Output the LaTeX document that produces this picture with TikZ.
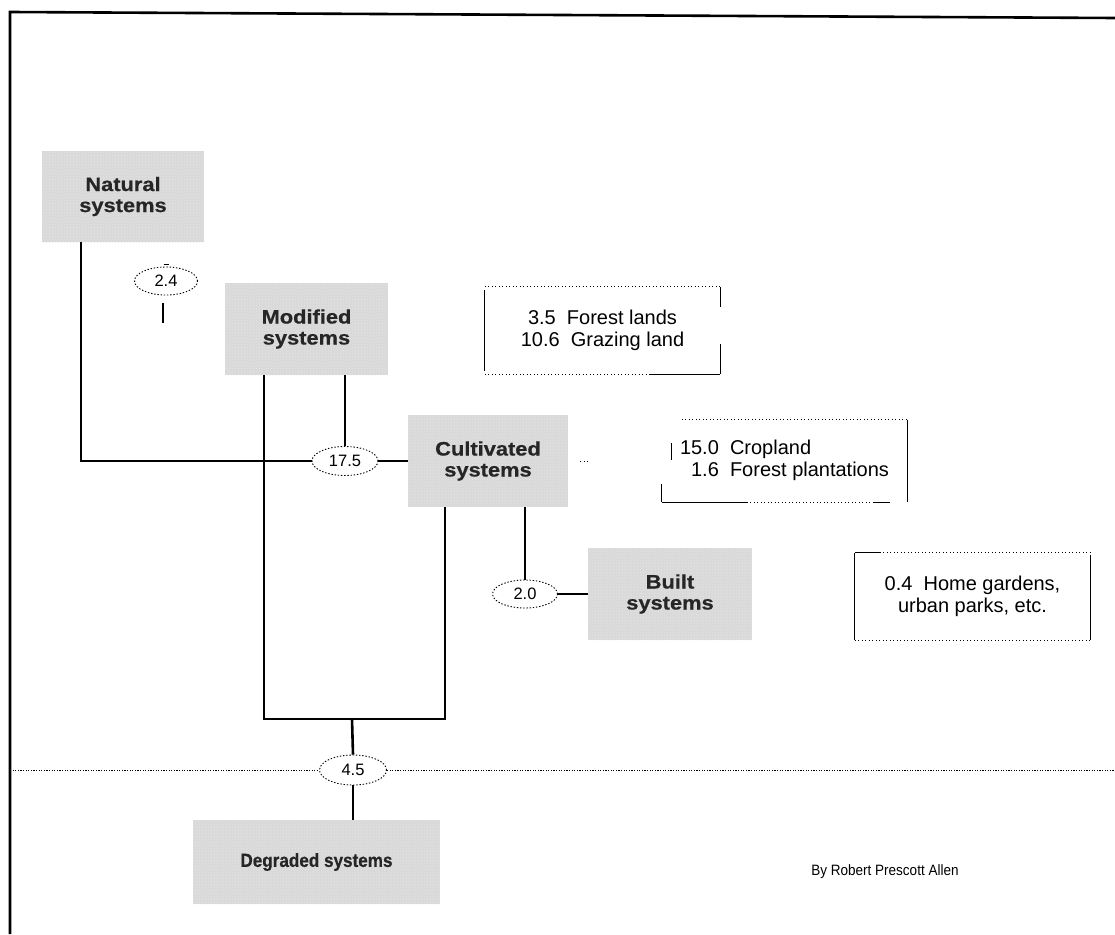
\documentclass[tikz,border=0pt]{standalone}
\usepackage{fontspec}
\setmainfont{Liberation Sans}
\newfontfamily\boxfont{Liberation Sans}[FakeStretch=1.12, BoldFeatures={FakeBold=0.6}]
\newfontfamily\degfont{Liberation Sans}[FakeStretch=0.9, BoldFeatures={FakeBold=0.6}]
\usetikzlibrary{shapes.geometric,calc,patterns}
\begin{document}
\begin{tikzpicture}[x=1pt,y=-1pt,
  sysbox/.style={rectangle, fill=black!15, postaction={pattern=crosshatch dots, pattern color=black!10},
    inner sep=0pt, align=center, text=black!85,
    font=\boxfont\bfseries\fontsize{19.5}{21}\selectfont},
  numell/.style={ellipse, draw, line width=0.9pt, dash pattern=on 1.4pt off 1.8pt,
    inner sep=0pt, font=\fontsize{16.5}{16.5}\selectfont},
  info/.style={rectangle, inner sep=0pt, align=center, font=\fontsize{20}{22}\selectfont},
  conn/.style={line width=2.6pt},
  thinconn/.style={line width=1.3pt},
  infoline/.style={line width=1.1pt},
  infodot/.style={line width=0.9pt, dash pattern=on 1pt off 2.5pt},
  frameline/.style={line width=2.6pt},
  dotline/.style={line width=1pt, dash pattern=on 1.2pt off 1.4pt}
]
\useasboundingbox (0,0) rectangle (1115,934);

% frame
\coordinate (fbl) at (10,934);
\coordinate (ftl) at (10,12);
\coordinate (ftr) at (1115,18);
\draw[frameline] (fbl) -- (ftl) -- (ftr);

% system boxes
\node[sysbox, minimum width=162pt, minimum height=91pt] (nat) at (123,196.5) {Natural\\systems};
\node[sysbox, minimum width=163pt, minimum height=92pt] (mod) at (306.5,329) {Modified\\systems};
\node[sysbox, minimum width=160pt, minimum height=92pt] (cul) at (488,461) {Cultivated\\systems};
\node[sysbox, minimum width=164pt, minimum height=92pt] (bui) at (670,594) {Built\\systems};
\node[sysbox, minimum width=247pt, minimum height=84pt, font=\degfont\bfseries\fontsize{19}{21}\selectfont] (deg) at (316.5,862) {Degraded systems};

% ellipses
\node[numell, minimum width=63pt, minimum height=28pt] (e24) at (166,281) {2.4};
\node[numell, minimum width=66pt, minimum height=29pt] (e175) at (345,461) {17.5};
\node[numell, minimum width=65pt, minimum height=28pt] (e20) at (525,594) {2.0};
\node[numell, minimum width=67pt, minimum height=30pt] (e45) at (353,770) {4.5};

% info boxes
\node[info, minimum width=235pt, minimum height=87pt] (f1) at (602.5,330.5) {3.5\ \ Forest lands\\10.6\ \ Grazing land};
\node[info, minimum width=245pt, minimum height=82pt] (f2) at (784.5,461)
  {\begin{tabular}{@{}r@{\ \ }l@{}}15.0&Cropland\\1.6&Forest plantations\end{tabular}};
\node[info, minimum width=235pt, minimum height=87pt] (f3) at (972.5,596.5) {0.4\ \ Home gardens,\\urban parks, etc.};

\node[font=\degfont\fontsize{15}{17}\selectfont, anchor=center] (auth) at (885,872) {By Robert Prescott Allen};

% helper coordinates
\coordinate (natx) at (81,0);
\coordinate (modl) at (264,0);
\coordinate (cull) at (445,0);
\coordinate (rb) at (352,719);
\coordinate (dl) at (10,770);
\coordinate (dr) at (1115,770);

% connectors
\draw[conn] (nat.south -| natx) |- (e175.west);
\draw[conn] (e175.east) -- (cul.west);
\draw[conn] (mod.south -| e175.north) -- (e175.north);
\draw[conn] (mod.south -| modl) |- (rb) -| (cul.south -| cull);
\draw[conn] (rb) -- (e45.north);
\draw[conn] (e45.south) -- (e45.south |- deg.north);
\draw[conn] (cul.south -| e20.north) -- (e20.north);
\draw[thinconn] (e20.east) -- (bui.west);
\draw[thinconn] ([shift={(-3pt,-8pt)}]e24.south) -- ++(0,20);
\draw[line width=1.6pt] ([shift={(-2.5pt,2pt)}]e24.north) -- ++(5,0);

% dotted horizontal line
\draw[dotline] (dl) -- (e45.west);
\draw[dotline] (e45.east) -- (dr);

% dots beside Cultivated
\draw[infodot] ([xshift=12pt]cul.east) -- ++(10,0);

% box 1 borders
\draw[infoline] ([yshift=-3pt]f1.north west) -- ([yshift=3pt]f1.south west);
\draw[infodot] (f1.north west) -- (f1.north east);
\draw[infoline] (f1.north east) -- ++(0,20);
\draw[infoline] (f1.south east) -- ++(0,-30);
\draw[infoline] (f1.south east) -- ++(-70,0);
\draw[infodot] (f1.south west) -- ++(165,0);

% box 2 borders
\draw[infodot] ([xshift=20pt]f2.north west) -- (f2.north east);
\draw[infoline] (f2.north east) -- (f2.south east);
\draw[infoline] (f2.south west) -- ++(85,0);
\draw[infodot] ([xshift=85pt]f2.south west) -- ([xshift=-34pt]f2.south east);
\draw[infoline] ([xshift=-34pt]f2.south east) -- ([xshift=-17pt]f2.south east);
\draw[infoline] (f2.south west) -- ++(0,-18);
\draw[infoline] ([shift={(10pt,18pt)}]f2.west) -- ([shift={(10pt,1pt)}]f2.west);

% box 3 borders
\draw[infoline] (f3.north west) -- (f3.south west);
\draw[infoline] (f3.north west) -- ++(25,0);
\draw[infodot] ([xshift=25pt]f3.north west) -- (f3.north east);
\draw[infoline] ([yshift=-2pt]f3.north east) -- (f3.south east);
\draw[infodot] (f3.south west) -- (f3.south east);
\end{tikzpicture}
\end{document}
